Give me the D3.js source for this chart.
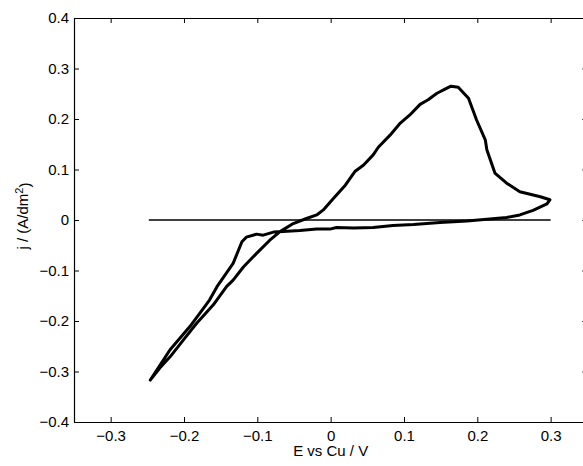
<html>

<head>
    <meta charset="utf-8">
    <style>
        body {
            margin: 0;
            background: white;
            font-family: "Liberation Sans", Arial, Helvetica, sans-serif;
        }

        svg {
            display: block;
        }
    </style>

    <script src="https://d3js.org/d3.v7.min.js"></script>
</head>

<body>
    <svg id="Chart"></svg>
</body>

<script>
    // Potential (V vs Cu) of the voltammogram
    let potential = [
        -0.246, -0.219, -0.192, -0.173, -0.165, -0.155, -0.133, -0.121, -0.115, -0.101,
        -0.092, -0.078, -0.065, -0.042, -0.019, -0.001, 0.008, 0.031, 0.058, 0.085,
        0.113, 0.149, 0.186, 0.217, 0.240, 0.258, 0.276, 0.295, 0.299, 0.286,
        0.258, 0.240, 0.224, 0.213, 0.211, 0.199, 0.188, 0.174, 0.164, 0.156,
        0.145, 0.133, 0.122, 0.108, 0.095, 0.081, 0.065, 0.058, 0.045, 0.033,
        0.020, 0.004, -0.010, -0.019, -0.033, -0.051, -0.069, -0.083, -0.101, -0.119,
        -0.133, -0.142, -0.160, -0.183, -0.201, -0.219, -0.233, -0.246
    ]
    // Current density (A/dm2) at each potential
    let current = [
        -0.317, -0.257, -0.211, -0.174, -0.158, -0.132, -0.086, -0.043, -0.034, -0.028,
        -0.030, -0.024, -0.023, -0.021, -0.018, -0.018, -0.015, -0.016, -0.015, -0.011,
        -0.009, -0.005, -0.002, 0.002, 0.005, 0.010, 0.019, 0.032, 0.040, 0.046,
        0.056, 0.073, 0.093, 0.139, 0.158, 0.198, 0.241, 0.263, 0.265, 0.259,
        0.251, 0.238, 0.229, 0.208, 0.192, 0.168, 0.144, 0.129, 0.109, 0.096,
        0.069, 0.043, 0.020, 0.010, 0.003, -0.007, -0.023, -0.040, -0.066, -0.093,
        -0.119, -0.132, -0.168, -0.205, -0.238, -0.271, -0.293, -0.317
    ]
    // Zero-current reference line
    let zeroLineX = [-0.248, 0.3]
    let zeroLineY = [0, 0]

    let xTicks = [-0.3, -0.2, -0.1, 0, 0.1, 0.2, 0.3]
    let yTicks = [-0.4, -0.3, -0.2, -0.1, 0, 0.1, 0.2, 0.3, 0.4]
    let xDomain = [-0.35, 0.35]
    let yDomain = [-0.4, 0.4]

    drawChart()

    function drawChart() {
        let config = getConfig()
        let scales = getScales(config)
        drawAxes(scales, config)
        drawLines(scales, config)
        drawLabels(config)
    }

    function getConfig() {
        let width = 583
        let height = 466
        let margin = { top: 18, left: 74 }
        let bodyWidth = 513.3 // right spine falls just outside the picture
        let bodyHeight = 404
        let fontSize = "15px"
        let container = d3.select("#Chart")
            .attr("width", width)
            .attr("height", height)
        return { width, height, margin, bodyWidth, bodyHeight, fontSize, container }
    }

    function getScales(config) {
        let { margin, bodyWidth, bodyHeight } = config
        let xScale = d3.scaleLinear()
            .domain(xDomain)
            .range([margin.left, margin.left + bodyWidth])
        let yScale = d3.scaleLinear()
            .domain(yDomain)
            .range([margin.top + bodyHeight, margin.top])
        return { xScale, yScale }
    }

    function drawAxes(scales, config) {
        let { xScale, yScale } = scales
        let { container, margin, bodyWidth, bodyHeight, fontSize } = config
        let fmt = d3.format(".1f")
        let label = d => d === 0 ? "0" : fmt(d)
        let noLabel = () => ""

        let styleAxis = g => {
            g.selectAll("path").attr("stroke", "black").attr("stroke-width", 1.2)
            g.selectAll("line").attr("stroke", "black").attr("stroke-width", 1)
            g.selectAll("text")
                .attr("fill", "black")
                .style("font-family", "'Liberation Sans', Arial, sans-serif")
                .style("font-size", fontSize)
        }

        // bottom and left carry labels, ticks point inwards
        container.append("g")
            .attr("transform", `translate(0,${margin.top + bodyHeight})`)
            .call(d3.axisBottom(xScale).tickValues(xTicks).tickFormat(label)
                .tickSizeInner(-5).tickSizeOuter(0).tickPadding(8))
            .call(styleAxis)

        container.append("g")
            .attr("transform", `translate(${margin.left},0)`)
            .call(d3.axisLeft(yScale).tickValues(yTicks).tickFormat(label)
                .tickSizeInner(-5).tickSizeOuter(0).tickPadding(5))
            .call(styleAxis)

        // top and right: box lines with ticks only
        container.append("g")
            .attr("transform", `translate(0,${margin.top})`)
            .call(d3.axisTop(xScale).tickValues(xTicks).tickFormat(noLabel)
                .tickSizeInner(-5).tickSizeOuter(0))
            .call(styleAxis)

        container.append("g")
            .attr("transform", `translate(${margin.left + bodyWidth},0)`)
            .call(d3.axisRight(yScale).tickValues(yTicks).tickFormat(noLabel)
                .tickSizeInner(-5).tickSizeOuter(0))
            .call(styleAxis)
    }

    function drawLines(scales, config) {
        let { xScale, yScale } = scales
        let { container } = config

        let line = d3.line()
            .x(d => xScale(d[0]))
            .y(d => yScale(d[1]))

        let zeroPoints = d3.zip(zeroLineX, zeroLineY)
        container.append("path")
            .datum(zeroPoints)
            .attr("d", line)
            .attr("fill", "none")
            .attr("stroke", "black")
            .attr("stroke-width", 1.5)

        let cvPoints = d3.zip(potential, current)
        container.append("path")
            .datum(cvPoints)
            .attr("d", line)
            .attr("fill", "none")
            .attr("stroke", "black")
            .attr("stroke-width", 3)
            .attr("stroke-linejoin", "round")
            .attr("stroke-linecap", "round")
    }

    function drawLabels(config) {
        let { container, margin, bodyWidth, bodyHeight, fontSize } = config

        container.append("text")
            .attr("x", margin.left + bodyWidth / 2)
            .attr("y", margin.top + bodyHeight + 34)
            .attr("text-anchor", "middle")
            .style("font-size", fontSize)
            .text("E vs Cu / V")

        let yLabel = container.append("text")
            .attr("transform", `translate(28,${margin.top + bodyHeight / 2 - 4}) rotate(-90)`)
            .attr("text-anchor", "middle")
            .style("font-size", fontSize)
        yLabel.append("tspan").text("j / (A/dm")
        yLabel.append("tspan").attr("dy", "-0.45em").style("font-size", "11px").text("2")
        yLabel.append("tspan").attr("dy", "0.45em").text(")")
    }
</script>

</html>
